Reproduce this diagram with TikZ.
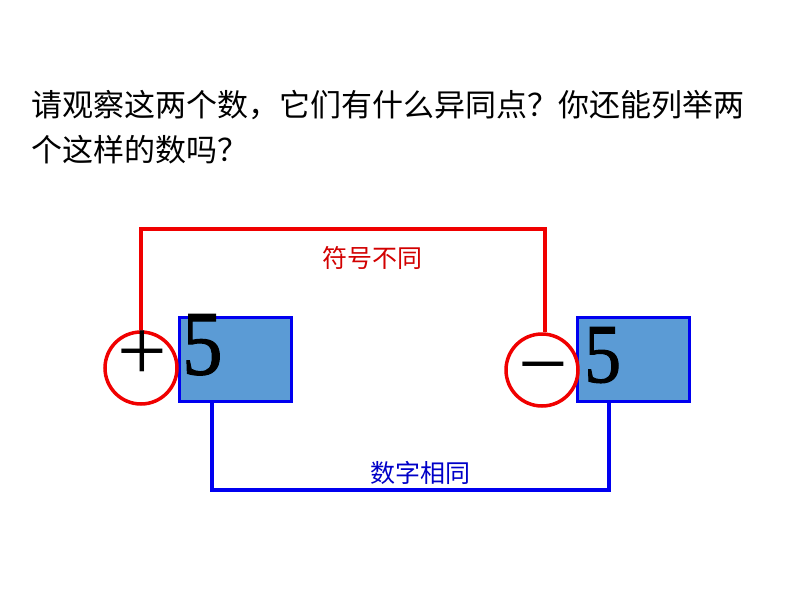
\documentclass[tikz,border=0pt]{standalone}
\usepackage{fontspec}
\setmainfont{Liberation Serif}
\newfontfamily\heavyserif[FakeBold=1.2]{Liberation Serif}
\newfontfamily\cjk{Noto Sans CJK SC}
\definecolor{boxfill}{RGB}{91,155,213}
\definecolor{boxline}{RGB}{0,0,240}
\definecolor{redline}{RGB}{240,0,0}
\definecolor{redtext}{RGB}{210,0,0}
\definecolor{bluetext}{RGB}{0,0,200}
\begin{document}
\begin{tikzpicture}[x=1pt,y=-1pt,
  numbox/.style={draw=boxline,line width=3pt,fill=boxfill,minimum width=112pt,minimum height=84pt,inner sep=0pt},
  signring/.style={draw=redline,line width=3.5pt,circle,minimum size=72pt,inner sep=0pt},
  bignum/.style={font=\fontsize{88}{88}\selectfont,inner sep=0pt},
  digit/.style={inner sep=0pt,xscale=0.88,anchor=north west},
  title/.style={font=\cjk\fontsize{31}{31}\selectfont,inner sep=0pt,anchor=west},
  lbl/.style={font=\cjk\fontsize{25}{25}\selectfont,inner sep=0pt},
  redwire/.style={draw=redline,line width=4pt},
  bluewire/.style={draw=boxline,line width=4pt}]
\useasboundingbox (0,0) rectangle (794,596);
\node[title] (t1) at (31,105) {请观察这两个数，它们有什么异同点？你还能列举两};
\node[title] (t2) at (31,150) {个这样的数吗？};
% boxes
\node[numbox] (bl) at (235,359) {};
\node[numbox] (br) at (633,359.5) {};
% circles
\node[signring] (cl) at (141,368) {};
\node[signring] (cr) at (542,370) {};
% signs and digits
\node[bignum] (pl) at (142,356) {+};
\node[bignum] (mn) at (543,378) {−};
\node[digit,font=\heavyserif\fontsize{92}{92}\selectfont] (fl) at (182,314) {5};
\node[digit,font=\heavyserif\fontsize{84}{84}\selectfont] (fr) at (584,327) {5};
% wires
\coordinate (r1) at (141,229);
\coordinate (r2) at (545,229);
\draw[redwire] (cl.north) -- (r1) -- (r2) -- (r2 |- cr.north);
\coordinate (b1) at (212,490);
\coordinate (b2) at (609,490);
\draw[bluewire] (b1 |- bl.south) -- (b1) -- (b2) -- (b2 |- br.south);
% labels
\node[lbl,text=redtext] (ls) at (372,258) {符号不同};
\node[lbl,text=bluetext] (ld) at (420,473) {数字相同};
\end{tikzpicture}
\end{document}
